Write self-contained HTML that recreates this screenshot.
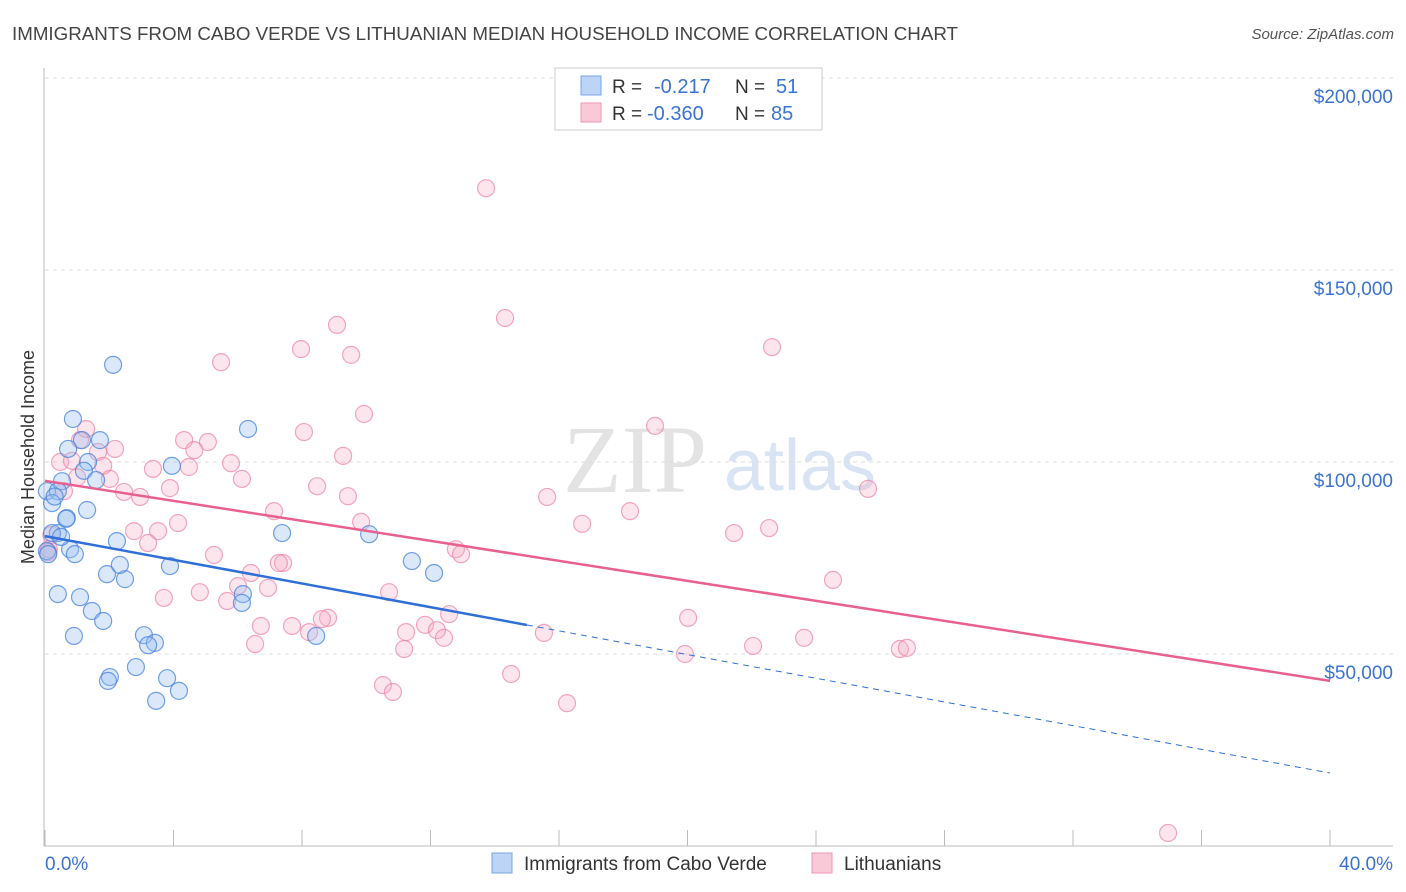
<!DOCTYPE html>
<html><head><meta charset="utf-8"><style>
body{margin:0;background:#fff;font-family:"Liberation Sans",sans-serif;}
#wrap{position:relative;width:1406px;height:892px;overflow:hidden;}
</style></head><body>
<div id="wrap">
<svg id="svg" width="1406" height="892" xmlns="http://www.w3.org/2000/svg" style="position:absolute;left:0;top:0">
<text x="12" y="40" font-size="18" fill="#444" textLength="946" lengthAdjust="spacingAndGlyphs">IMMIGRANTS FROM CABO VERDE VS LITHUANIAN MEDIAN HOUSEHOLD INCOME CORRELATION CHART</text>
<text x="1394" y="39" font-size="15" fill="#555" text-anchor="end" font-style="italic">Source: ZipAtlas.com</text>
<text x="635" y="492" font-size="96" fill="#d8d8d8" font-family="Liberation Serif,serif" text-anchor="middle" opacity="0.7">ZIP</text>
<text x="800" y="490" font-size="72" fill="#c8d8ee" text-anchor="middle" opacity="0.7">atlas</text>
<text transform="translate(34,457) rotate(-90)" font-size="18" fill="#333" text-anchor="middle">Median Household Income</text>
<g id="grid"></g><g id="marks"></g>
<g>
<rect x="555" y="68" width="267" height="62" fill="#fff" stroke="#ccc"/>
<rect x="581" y="76" width="20" height="19" fill="#bcd4f6" stroke="#7aa6e6"/>
<rect x="581" y="103" width="20" height="19" fill="#f9c9d8" stroke="#ee96b2"/>
<text x="612" y="93" font-size="19" fill="#333">R =</text>
<text x="654" y="93" font-size="20" fill="#3b73d4">-0.217</text>
<text x="735" y="93" font-size="19" fill="#333">N =</text>
<text x="776" y="93" font-size="20" fill="#3b73d4">51</text>
<text x="612" y="120" font-size="19" fill="#333">R =</text>
<text x="647" y="120" font-size="20" fill="#3b73d4">-0.360</text>
<text x="735" y="120" font-size="19" fill="#333">N =</text>
<text x="771" y="120" font-size="20" fill="#3b73d4">85</text>
</g>
<g>
<rect x="492" y="853" width="20" height="20" fill="#bcd4f6" stroke="#7aa6e6"/>
<text x="524" y="870" font-size="19" fill="#333">Immigrants from Cabo Verde</text>
<rect x="812" y="853" width="20" height="20" fill="#f9c9d8" stroke="#ee96b2"/>
<text x="844" y="870" font-size="19" fill="#333">Lithuanians</text>
</g>
</svg>
</div>
<script>
const blueX=[2.12,0.87,1.71,1.15,0.72,1.34,3.95,6.32,1.21,1.59,0.53,0.06,0.40,0.22,1.31,0.68,0.40,2.24,7.38,10.09,0.78,0.93,0.06,1.93,2.49,2.33,3.89,11.42,12.11,0.40,1.09,1.46,1.81,0.90,6.16,6.13,3.08,3.42,3.21,8.44,2.83,2.02,1.96,3.80,4.17,3.46,0.66,0.22,0.3,0.5,0.1];
const blueY=[125.3,111.2,105.7,105.7,103.4,100.0,99.0,108.6,97.7,95.3,95.0,92.4,92.4,89.3,87.5,85.4,81.5,79.4,81.5,81.2,77.3,76.0,76.8,70.8,69.5,73.2,72.9,74.2,71.1,65.6,64.8,61.2,58.6,54.7,65.6,63.3,54.9,52.9,52.3,54.7,46.6,44.0,43.0,43.7,40.4,37.8,85.2,81.5,91.0,80.5,76.0];
const pinkX=[13.73,14.32,9.09,22.63,7.97,9.53,5.48,9.93,18.99,8.06,1.28,4.33,5.07,1.09,2.18,4.65,1.65,9.28,0.47,0.84,5.79,1.81,3.36,4.48,2.02,6.13,8.47,3.89,2.46,0.59,9.43,15.63,25.62,2.96,7.13,18.21,4.14,9.84,16.72,22.54,21.45,2.77,3.52,3.21,0.12,12.79,12.95,5.26,7.41,7.28,6.41,24.53,6.01,6.94,4.82,10.71,3.70,5.67,12.58,20.02,8.81,8.62,6.72,7.69,11.83,12.20,11.24,8.22,15.53,12.42,23.63,6.54,22.04,11.18,26.61,26.83,19.92,14.51,10.52,10.83,16.25,34.96,0.2,0.1,1.0];
const pinkY=[171.3,137.5,135.7,129.9,129.4,127.9,126.0,112.5,109.4,107.8,108.6,105.7,105.2,105.7,103.4,103.1,102.6,101.6,100.0,100.3,99.7,99.0,98.2,98.7,95.6,95.6,93.7,93.2,92.2,92.4,91.1,90.9,93.0,90.9,87.2,87.2,84.1,84.4,83.9,82.8,81.5,82.0,82.0,78.9,77.3,77.3,76.0,75.8,73.7,73.7,71.1,69.3,67.7,67.2,66.1,66.1,64.6,63.8,60.4,59.4,59.4,59.1,57.3,57.3,57.6,56.2,55.7,55.7,55.5,54.2,54.2,52.6,52.1,51.3,51.3,51.6,50.0,44.8,41.9,40.1,37.2,3.4,81.0,76.5,96.0];
const yTicks=[50,100,150,200];
const yTickLabels=["$50,000","$100,000","$150,000","$200,000"];
const xTickLabels=["0.0%","40.0%"];
const blueLine=[80.7,19.0]; const blueSolidEnd=15.0;
const pinkLine=[95.1,43.0];
const NS="http://www.w3.org/2000/svg";
const X=v=>45+v/40*1285, Y=v=>846-v*3.84;
function mk(t,a,p){const e=document.createElementNS(NS,t);for(const k in a)e.setAttribute(k,a[k]);(p||document.getElementById('marks')).appendChild(e);return e;}
const g=document.getElementById('grid');
yTicks.forEach((t,i)=>{
 const l=mk('line',{x1:45,x2:1393,y1:Y(t),y2:Y(t),stroke:'#ddd','stroke-dasharray':'4,4'},g);
 
 
 const tx=mk('text',{x:1393,y:Y(t)+25,'font-size':19,fill:'#3b73d4','text-anchor':'end'},g);tx.textContent=yTickLabels[i];
 
 
});
mk('line',{x1:44,x2:44,y1:68,y2:846,stroke:'#bbb'},g);
mk('line',{x1:44,x2:1393,y1:846,y2:846,stroke:'#bbb'},g);
for(let i=0;i<=10;i++){mk('line',{x1:X(i*4),x2:X(i*4),y1:830,y2:846,stroke:'#bbb'},g);}
const xl0=mk('text',{x:45,y:870,'font-size':19,fill:'#3b73d4'},g);xl0.textContent=xTickLabels[0];


const xl1=mk('text',{x:1393,y:870,'font-size':19,fill:'#3b73d4','text-anchor':'end'},g);xl1.textContent=xTickLabels[1];


pinkX.forEach((x,i)=>{const c=mk('circle',{cx:X(x),cy:Y(pinkY[i]),r:8.5,fill:'rgba(246,170,195,0.3)',stroke:'rgba(236,130,165,0.7)','stroke-width':1.2});
 
 });
blueX.forEach((x,i)=>{const c=mk('circle',{cx:X(x),cy:Y(blueY[i]),r:8.5,fill:'rgba(150,190,240,0.35)',stroke:'rgba(70,130,220,0.75)','stroke-width':1.2});
 
 });
const by=x=>blueLine[0]+(blueLine[1]-blueLine[0])*x/40;
const b1=mk('line',{x1:X(0),y1:Y(by(0)),x2:X(blueSolidEnd),y2:Y(by(blueSolidEnd)),stroke:'#2f6fd6','stroke-width':2.5});


const b2=mk('line',{x1:X(blueSolidEnd),y1:Y(by(blueSolidEnd)),x2:X(40),y2:Y(by(40)),stroke:'#2f6fd6','stroke-width':1,'stroke-dasharray':'6,5'});


const p1=mk('line',{x1:X(0),y1:Y(pinkLine[0]),x2:X(40),y2:Y(pinkLine[1]),stroke:'#e8608e','stroke-width':2.5});


</script>
</body></html>
